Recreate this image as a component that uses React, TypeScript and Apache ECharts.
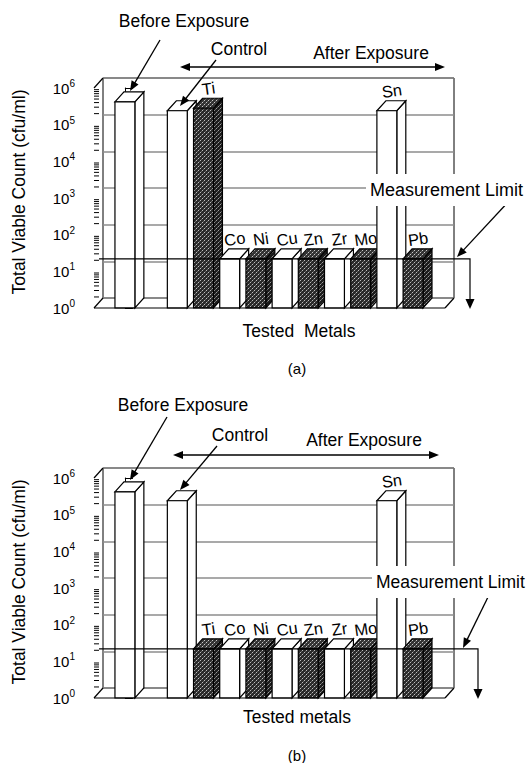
import React, { useEffect, useRef } from 'react';
import * as echarts from 'echarts';

// ---------- data ----------
const categories = ['Before Exposure', '', 'Control', 'Ti', 'Co', 'Ni', 'Cu', 'Zn', 'Zr', 'Mo', 'Sn', 'Pb'];
const shading = ['white', '', 'white', 'dark', 'white', 'dark', 'white', 'dark', 'white', 'dark', 'white', 'dark'];
const countsA = [4.2e5, null, 2.4e5, 2.8e5, 22, 22, 22, 22, 22, 22, 2.4e5, 22];
const countsB = [4.2e5, null, 2.4e5, 22, 22, 22, 22, 22, 22, 22, 2.4e5, 22];
const measurementLimit = 22;
const yMin = 1;
const yMax = 1e6;
const xTitles = ['Tested  Metals', 'Tested metals'];
const panelLetters = ['(a)', '(b)'];

// ---------- layout ----------
const FONT = '"Liberation Sans", Arial, sans-serif';
const FX = 94, FT = 88, FW = 351, FH = 220, DX = 9, DY = -10;
const X_MIN = -1.18, X_MAX = 12.22;
const OFFS = [0, 390];

const ann = [
  {
    before: [184, 21], beforeArrow: [160, 40, 130, 91],
    control: [239, 49], controlArrow: [216, 60, 180, 106],
    after: [371, 53], afterArrow: [180, 445, 67],
    ml: [366, 190], mlSize: 18, mlArrow: [510, 200, 457, 257], limitEnd: 470,
    yTitle: [19, 192], xTitle: [299, 331], letter: [297, 368],
  },
  {
    before: [183, 405], beforeArrow: [167, 417, 130, 480],
    control: [240, 435], controlArrow: [217, 446, 180, 490],
    after: [364, 440], afterArrow: [173, 439, 455],
    ml: [372, 582], mlSize: 17.5, mlArrow: [490, 593, 463, 648], limitEnd: 478,
    yTitle: [19, 582], xTitle: [297, 717], letter: [297, 755],
  },
];

function svgPattern(bg: string, fg: string) {
  const s = `<svg xmlns='http://www.w3.org/2000/svg' width='4' height='4'><rect width='4' height='4' fill='${bg}'/><rect x='0' y='0' width='1' height='1' fill='${fg}'/><rect x='2' y='2' width='1' height='1' fill='${fg}'/><rect x='1' y='3' width='1' height='1' fill='#666'/><rect x='3' y='1' width='1' height='1' fill='#666'/></svg>`;
  return {
    image: 'data:image/svg+xml;charset=utf-8,' + encodeURIComponent(s),
    repeat: 'repeat',
    imageWidth: 4,
    imageHeight: 4,
  };
}

function arrowHead(x1: number, y1: number, x2: number, y2: number, len = 10, half = 4) {
  const a = Math.atan2(y2 - y1, x2 - x1);
  const bx = x2 - len * Math.cos(a), by = y2 - len * Math.sin(a);
  const px = -Math.sin(a) * half, py = Math.cos(a) * half;
  return {
    type: 'polygon', z: 120,
    shape: { points: [[x2, y2], [bx + px, by + py], [bx - px, by - py]] },
    style: { fill: '#000' },
  };
}

function arrow(x1: number, y1: number, x2: number, y2: number) {
  const a = Math.atan2(y2 - y1, x2 - x1);
  return [
    { type: 'line', z: 120, shape: { x1, y1, x2: x2 - 6 * Math.cos(a), y2: y2 - 6 * Math.sin(a) }, style: { stroke: '#000', lineWidth: 1.3 } },
    arrowHead(x1, y1, x2, y2),
  ];
}

function txt(text: string, x: number, y: number, size: number, extra: any = {}) {
  return {
    type: 'text', z: 130, x, y, ...(extra.el || {}),
    style: { text, font: `${size}px ${FONT}`, fill: '#000', textAlign: 'center', textVerticalAlign: 'middle', ...(extra.style || {}) },
  };
}

function buildOption() {
  const darkFront = svgPattern('#2a2a2a', '#bdbdbd');
  const darkSide = svgPattern('#1c1c1c', '#9a9a9a');
  const darkTop = svgPattern('#333', '#c8c8c8');

  const grid: any[] = [], xAxis: any[] = [], yAxis: any[] = [], series: any[] = [], graphic: any[] = [];

  [countsA, countsB].forEach((counts, p) => {
    const oy = OFFS[p];
    const gBack = p * 2, gFront = p * 2 + 1;
    grid.push({ left: FX + DX, top: FT + DY + oy, width: FW, height: FH, show: true, borderColor: '#000', borderWidth: 1 });
    grid.push({ left: FX, top: FT + oy, width: FW, height: FH });
    xAxis.push({ type: 'value', gridIndex: gBack, min: X_MIN, max: X_MAX, show: false });
    xAxis.push({ type: 'value', gridIndex: gFront, min: X_MIN, max: X_MAX, show: false });
    yAxis.push({
      type: 'log', logBase: 10, gridIndex: gBack, min: yMin, max: yMax,
      axisLine: { show: false }, axisTick: { show: false }, axisLabel: { show: false },
      splitLine: { show: true, lineStyle: { color: '#8c8c8c', width: 1.5 } },
    });
    yAxis.push({
      type: 'log', logBase: 10, gridIndex: gFront, min: yMin, max: yMax,
      axisLine: { show: true, lineStyle: { color: '#000', width: 1 } },
      axisTick: { show: true, inside: true, length: 8, lineStyle: { color: '#000', width: 1 } },
      splitLine: { show: false },
      axisLabel: {
        margin: 19,
        formatter: (v: number) => `{b|10}{s|${Math.round(Math.log10(v))}}`,
        rich: {
          b: { fontFamily: FONT, fontSize: 15, color: '#000' },
          s: { fontFamily: FONT, fontSize: 10, color: '#000', padding: [0, 0, 9, 0] },
        },
      },
    });

    // minor ticks on the front (ruler) axis
    const minor: number[][] = [];
    for (let k = 0; k < 6; k++) for (let m = 2; m <= 9; m++) minor.push([X_MIN, m * Math.pow(10, k)]);
    series.push({
      type: 'custom', xAxisIndex: gFront, yAxisIndex: gFront, silent: true, z: 3,
      data: minor,
      renderItem: (params: any, api: any) => {
        const pt = api.coord([api.value(0), api.value(1)]);
        return { type: 'line', shape: { x1: pt[0], y1: pt[1], x2: pt[0] + 5, y2: pt[1] }, style: { stroke: '#000', lineWidth: 1 } };
      },
    });

    // 3D bars
    const barData = counts
      .map((c, i) => (c == null ? null : { value: [i, c, shading[i] === 'dark' ? 1 : 0] }))
      .filter(Boolean);
    series.push({
      type: 'custom', xAxisIndex: gFront, yAxisIndex: gFront, silent: true, z: 5,
      data: barData,
      renderItem: (params: any, api: any) => {
        const i = api.value(0), v = api.value(1), dark = api.value(2) === 1;
        const top = api.coord([i, v]);
        const base = api.coord([i, yMin]);
        const w = api.size([1, 0])[0] * 0.76;
        const l = top[0] - w / 2, r = top[0] + w / 2;
        const yt = top[1], yb = base[1];
        const stroke = { stroke: '#000', lineWidth: 1.2 };
        const children: any[] = [
          { type: 'polygon', shape: { points: [[r, yt], [r + DX, yt + DY], [r + DX, yb + DY], [r, yb]] }, style: { fill: dark ? darkSide : '#fff', ...stroke } },
          { type: 'polygon', shape: { points: [[l, yt], [l + DX, yt + DY], [r + DX, yt + DY], [r, yt]] }, style: { fill: dark ? darkTop : '#fff', ...stroke } },
          { type: 'rect', shape: { x: l, y: yt, width: w, height: yb - yt }, style: { fill: dark ? darkFront : '#fff', ...stroke } },
        ];
        if (i >= 3) {
          children.push({
            type: 'text', x: top[0] + 5, y: yt + DY - 10, rotation: 0.14,
            style: { text: categories[i], font: `16.5px ${FONT}`, fill: '#000', textAlign: 'center', textVerticalAlign: 'middle' },
          });
        }
        return { type: 'group', children };
      },
    });

    // measurement limit line with bent arrow
    const a = ann[p];
    series.push({
      type: 'custom', xAxisIndex: gFront, yAxisIndex: gFront, silent: true, z: 8,
      data: [[0, measurementLimit]],
      renderItem: (params: any, api: any) => {
        const y = api.coord([0, api.value(1)])[1];
        const yb = api.coord([0, yMin])[1];
        const x0 = FX + 5, x1 = a.limitEnd;
        return {
          type: 'group', children: [
            { type: 'polyline', shape: { points: [[x0, y], [x1, y], [x1, yb - 6]] }, style: { stroke: '#000', lineWidth: 1.2, fill: 'none' } },
            { type: 'polygon', shape: { points: [[x1, yb + 1], [x1 - 4.5, yb - 9], [x1 + 4.5, yb - 9]] }, style: { fill: '#000' } },
          ],
        };
      },
    });

    // 3D frame lines
    const bY = FT + FH + oy;
    const line = (x1: number, y1: number, x2: number, y2: number) => ({
      type: 'line', z: 50, shape: { x1, y1, x2, y2 }, style: { stroke: '#000', lineWidth: 1.2 },
    });
    graphic.push(line(FX, FT + oy, FX + DX, FT + DY + oy));
    graphic.push(line(FX, bY, FX + DX, bY + DY));
    graphic.push(line(FX, bY, FX + FW, bY));
    graphic.push(line(FX + FW, bY, FX + FW + DX, bY + DY));

    // annotations
    graphic.push(txt('Before Exposure', a.before[0], a.before[1], 17.5));
    graphic.push(...arrow(a.beforeArrow[0], a.beforeArrow[1], a.beforeArrow[2], a.beforeArrow[3]));
    graphic.push(txt('Control', a.control[0], a.control[1], 17.5));
    graphic.push(...arrow(a.controlArrow[0], a.controlArrow[1], a.controlArrow[2], a.controlArrow[3]));
    graphic.push(txt('After Exposure', a.after[0], a.after[1], 17.5));
    const [ax0, ax1, ay] = a.afterArrow;
    graphic.push({ type: 'line', z: 120, shape: { x1: ax0 + 6, y1: ay, x2: ax1 - 6, y2: ay }, style: { stroke: '#000', lineWidth: 1.3 } });
    graphic.push(arrowHead(ax1 - 20, ay, ax1, ay));
    graphic.push(arrowHead(ax0 + 20, ay, ax0, ay));
    graphic.push(txt('Measurement Limit', a.ml[0], a.ml[1], a.mlSize, {
      style: { textAlign: 'left', backgroundColor: '#fff', padding: [7, 2, 7, 4] },
    }));
    graphic.push(...arrow(a.mlArrow[0], a.mlArrow[1], a.mlArrow[2], a.mlArrow[3]));
    graphic.push(txt('Total Viable Count (cfu/ml)', a.yTitle[0], a.yTitle[1], 17.5, { el: { rotation: Math.PI / 2 } }));
    graphic.push(txt(xTitles[p], a.xTitle[0], a.xTitle[1], 17.5));
    graphic.push(txt(panelLetters[p], a.letter[0], a.letter[1], 15));
  });

  return {
    animation: false,
    backgroundColor: '#fff',
    grid, xAxis, yAxis, series, graphic,
  };
}

export default function App() {
  const ref = useRef<HTMLDivElement>(null);
  useEffect(() => {
    if (!ref.current) return;
    const chart = echarts.init(ref.current, undefined, { renderer: 'svg' });
    chart.setOption(buildOption() as any);
    return () => chart.dispose();
  }, []);
  return <div ref={ref} style={{ position: 'absolute', left: 0, top: 0, width: 529, height: 763, background: '#fff' }} />;
}
